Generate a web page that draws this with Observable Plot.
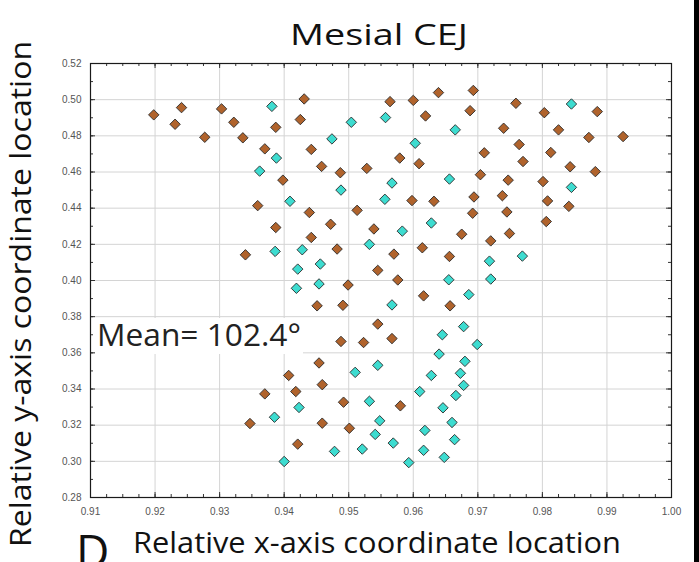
<!DOCTYPE html>
<html>
<head>
<meta charset="utf-8">
<script src="https://cdn.jsdelivr.net/npm/d3@7"></script>
<script src="https://cdn.jsdelivr.net/npm/@observablehq/plot@0.6"></script>
<style>
  html, body { margin: 0; padding: 0; background: #fff; }
  #chart svg { display: block; }
</style>
</head>
<body>
<div id="chart"></div>
<script>
// Brown series
const brownX = [0.9198,0.9231,0.9241,0.9277,0.9303,0.9322,0.9336,0.9387,0.9370,0.9398,
  0.9359,0.9431,0.9425,0.9564,0.9600,0.9619,0.9639,0.9693,0.9688,0.9740,
  0.9442,0.9458,0.9487,0.9528,0.9579,0.9609,0.9710,0.9704,0.9747,0.9598,
  0.9632,0.9694,0.9738,0.9439,0.9513,0.9692,0.9745,0.9759,0.9803,0.9885,
  0.9825,0.9872,0.9925,0.9764,0.9813,0.9770,0.9843,0.9882,0.9801,0.9808,
  0.9841,0.9387,0.9340,0.9472,0.9539,0.9675,0.9749,0.9442,0.9482,0.9570,
  0.9614,0.9656,0.9720,0.9806,0.9545,0.9576,0.9499,0.9616,0.9451,0.9491,
  0.9657,0.9545,0.9488,0.9523,0.9567,0.9454,0.9407,0.9370,0.9347,0.9459,
  0.9418,0.9492,0.9580,0.9459,0.9501,0.9421];
const brownY = [0.4916,0.4864,0.4956,0.4792,0.4949,0.4875,0.4789,0.4847,0.4728,0.4555,
  0.4414,0.5004,0.4890,0.4989,0.4996,0.4910,0.5039,0.5051,0.4939,0.4842,
  0.4725,0.4631,0.4596,0.4620,0.4677,0.4646,0.4706,0.4585,0.4555,0.4442,
  0.4438,0.4462,0.4469,0.4376,0.4388,0.4372,0.4379,0.4980,0.4928,0.4934,
  0.4833,0.4791,0.4796,0.4752,0.4708,0.4658,0.4629,0.4602,0.4547,0.4440,
  0.4410,0.4293,0.4142,0.4311,0.4285,0.4256,0.4260,0.4238,0.4174,0.4146,
  0.4181,0.4133,0.4219,0.4326,0.4056,0.4003,0.3975,0.3915,0.3860,0.3863,
  0.3860,0.3759,0.3663,0.3657,0.3679,0.3544,0.3475,0.3373,0.3209,0.3424,
  0.3386,0.3327,0.3307,0.3211,0.3183,0.3095];

// Cyan series
const cyanX = [0.9381,0.9388,0.9362,0.9409,0.9504,0.9557,0.9665,0.9474,0.9603,0.9488,
  0.9567,0.9656,0.9556,0.9845,0.9845,0.9386,0.9583,0.9628,0.9428,0.9532,
  0.9718,0.9421,0.9456,0.9655,0.9720,0.9419,0.9454,0.9686,0.9567,0.9769,
  0.9678,0.9645,0.9699,0.9640,0.9680,0.9545,0.9510,0.9628,0.9673,0.9678,
  0.9610,0.9666,0.9532,0.9423,0.9646,0.9548,0.9660,0.9618,0.9541,0.9664,
  0.9569,0.9521,0.9616,0.9478,0.9648,0.9400,0.9593,0.9385];
const cyanY = [0.4963,0.4677,0.4605,0.4438,0.4875,0.4901,0.4833,0.4783,0.4759,0.4500,
  0.4539,0.4561,0.4449,0.4976,0.4515,0.4161,0.4273,0.4318,0.4170,0.4200,
  0.4107,0.4063,0.4091,0.4004,0.4008,0.3957,0.3981,0.3922,0.3865,0.4135,
  0.3745,0.3700,0.3646,0.3593,0.3553,0.3531,0.3492,0.3475,0.3487,0.3420,
  0.3386,0.3364,0.3332,0.3298,0.3296,0.3224,0.3215,0.3171,0.3149,0.3120,
  0.3101,0.3068,0.3061,0.3055,0.3022,0.2999,0.2993,0.3244];

// Tick values
const xTicks = [0.91,0.92,0.93,0.94,0.95,0.96,0.97,0.98,0.99,1.00];
const yTicks = [0.28,0.30,0.32,0.34,0.36,0.38,0.40,0.42,0.44,0.46,0.48,0.50,0.52];
const xMinor = d3.range(0, 37).map(i => +(0.91 + i * 0.0025).toFixed(4));
const yMinor = d3.range(0, 25).map(i => +(0.28 + i * 0.01).toFixed(3));

const titleText = "Mesial CEJ";
const xLabel = "Relative x-axis coordinate location";
const yLabel = "Relative y-axis coordinate location";
const meanText = "Mean= 102.4°";
const panelLetter = "D";

const brown = brownX.map((x, i) => ({x, y: brownY[i]}));
const cyan = cyanX.map((x, i) => ({x, y: cyanY[i]}));

const W = 699, H = 562;
const mL = 90, mR = 28, mT = 63, mB = 65;
const fw = W - mL - mR, fh = H - mT - mB;

const plot = Plot.plot({
  width: W,
  height: H,
  marginLeft: mL,
  marginRight: mR,
  marginTop: mT,
  marginBottom: mB,
  style: {fontFamily: "Liberation Sans, Arial, sans-serif", fontSize: "10px", background: "#fff"},
  x: {domain: [0.91, 1.00]},
  y: {domain: [0.28, 0.52]},
  marks: [
    Plot.gridX(xTicks, {stroke: "#d4d4d4", strokeOpacity: 1}),
    Plot.gridY(yTicks, {stroke: "#d4d4d4", strokeOpacity: 1}),
    Plot.tickX(xMinor, {x: d => d, insetTop: fh - 3, stroke: "#333"}),
    Plot.tickX(xMinor, {x: d => d, insetBottom: fh - 3, stroke: "#333"}),
    Plot.tickX(xTicks, {x: d => d, insetTop: fh - 5, stroke: "#333"}),
    Plot.tickX(xTicks, {x: d => d, insetBottom: fh - 5, stroke: "#333"}),
    Plot.tickY(yMinor, {y: d => d, insetRight: fw - 3, stroke: "#333"}),
    Plot.tickY(yMinor, {y: d => d, insetLeft: fw - 3, stroke: "#333"}),
    Plot.tickY(yTicks, {y: d => d, insetRight: fw - 5, stroke: "#333"}),
    Plot.tickY(yTicks, {y: d => d, insetLeft: fw - 5, stroke: "#333"}),
    Plot.frame({stroke: "#1a1a1a", strokeWidth: 1.2}),
    Plot.dot(brown, {x: "x", y: "y", symbol: "diamond2", r: 4.7, fill: "#b0632c", stroke: "#2a2a2a", strokeWidth: 0.9}),
    Plot.dot(cyan, {x: "x", y: "y", symbol: "diamond2", r: 4.7, fill: "#3ddcd0", stroke: "#2a2a2a", strokeWidth: 0.9}),
    Plot.axisX(xTicks, {anchor: "bottom", tickSize: 0, tickPadding: 10, tickFormat: d3.format(".2f"), fill: "#555", fontSize: 10, label: null}),
    Plot.axisY(yTicks, {anchor: "left", tickSize: 0, tickPadding: 9, tickFormat: d3.format(".2f"), fill: "#555", fontSize: 10, label: null})
  ]
});

const svg = d3.select(plot);
const font = "'Open Sans', 'Noto Sans', sans-serif";

// Mean annotation with white backing
svg.append("rect").attr("x", 95).attr("y", 318).attr("width", 208).attr("height", 36).attr("fill", "#fff");
svg.append("text").text(meanText)
  .attr("x", 97).attr("y", 346).attr("text-anchor", "start")
  .attr("font-family", font).attr("font-size", 31).attr("fill", "#222")
  .attr("textLength", 204).attr("lengthAdjust", "spacingAndGlyphs");

// Title
svg.append("text").text(titleText)
  .attr("x", 379).attr("y", 45).attr("text-anchor", "middle")
  .attr("font-family", font).attr("font-size", 30).attr("fill", "#111")
  .attr("textLength", 178).attr("lengthAdjust", "spacingAndGlyphs");

// X axis title
svg.append("text").text(xLabel)
  .attr("x", 377).attr("y", 553).attr("text-anchor", "middle")
  .attr("font-family", font).attr("font-size", 30).attr("fill", "#111")
  .attr("textLength", 488).attr("lengthAdjust", "spacingAndGlyphs");

// Y axis title
svg.append("text").text(yLabel)
  .attr("transform", "translate(31,294) rotate(-90)")
  .attr("text-anchor", "middle")
  .attr("font-family", font).attr("font-size", 29).attr("fill", "#111")
  .attr("textLength", 506).attr("lengthAdjust", "spacingAndGlyphs");

// Panel letter
svg.append("text").text(panelLetter)
  .attr("x", 76).attr("y", 568).attr("text-anchor", "start")
  .attr("font-family", font).attr("font-size", 46).attr("fill", "#111");

// Right black band
svg.append("rect").attr("x", 694).attr("y", 0).attr("width", 5).attr("height", H).attr("fill", "#000");

document.getElementById("chart").appendChild(plot);
</script>
</body>
</html>
